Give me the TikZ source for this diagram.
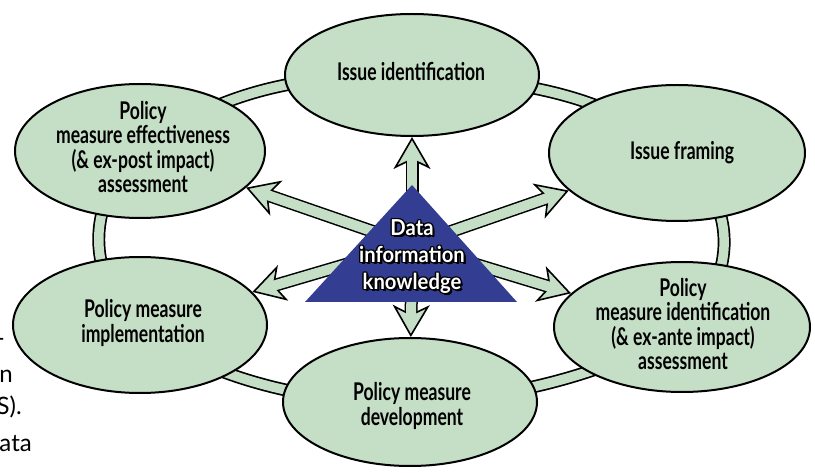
\documentclass[tikz,border=0pt]{standalone}
\usepackage{fontspec}
\usetikzlibrary{shapes.geometric,arrows.meta,backgrounds}
\newfontfamily\condf{Lato}[FakeStretch=0.72]
\newfontfamily\trifont{Lato}[FakeStretch=0.92]
\newfontfamily\fragf{Lato}
\definecolor{ellgreen}{RGB}{197,222,198}
\definecolor{triblue}{RGB}{51,61,145}
\newcommand\shcp[3]{\rlap{\kern#1\raisebox{#2}{\textcolor{black}{#3}}}}
\newcommand\outl[1]{%
  \shcp{1.4pt}{0pt}{#1}\shcp{-1.4pt}{0pt}{#1}\shcp{0pt}{1.4pt}{#1}\shcp{0pt}{-1.4pt}{#1}%
  \shcp{1pt}{1pt}{#1}\shcp{-1pt}{1pt}{#1}\shcp{1pt}{-1pt}{#1}\shcp{-1pt}{-1pt}{#1}%
  \shcp{2.2pt}{-1.8pt}{#1}\shcp{1.8pt}{-2.2pt}{#1}%
  \textcolor{white}{#1}}
\tikzset{
  ell/.style={ellipse, draw=black, line width=2pt, fill=ellgreen, inner sep=0pt},
  lbl/.style={align=center, inner sep=0pt, font=\condf\bfseries\fontsize{24.4}{24.5}\selectfont},
  band/.style={draw=black, line width=1.7pt, double=ellgreen, double distance=9.5pt},
  arrowout/.style={draw=black, line width=13pt,
    -{Stealth[length=32pt, width=37pt, inset=9pt, fill=ellgreen, line width=1.6pt]}},
  arrowin/.style={draw=ellgreen, line width=10pt, shorten >=19pt},
  frag/.style={anchor=base east, inner sep=0pt, font=\fragf\fontsize{24}{28}\selectfont},
}
\begin{document}
\begin{tikzpicture}[x=1pt,y=1pt]
\useasboundingbox (0,0) rectangle (815,-473);
% ellipses
\node[ell, minimum width=254pt, minimum height=122pt] (e1) at (412,-75) {};
\node[ell, minimum width=256pt, minimum height=136pt] (e2) at (677,-153) {};
\node[ell, minimum width=256pt, minimum height=130pt] (e3) at (682,-327) {};
\node[ell, minimum width=254pt, minimum height=128pt] (e4) at (410,-402) {};
\node[ell, minimum width=254pt, minimum height=136pt] (e5) at (140,-325) {};
\node[ell, minimum width=250pt, minimum height=134pt] (e6) at (140,-151) {};
% ring bands
\begin{scope}[on background layer]
\draw[band] (e1.center) .. controls (330,-75) and (230,-80) .. (e6.center);
\draw[band] (e6.center) .. controls (85,-200) and (85,-280) .. (e5.center);
\draw[band] (e5.center) .. controls (190,-370) and (300,-405) .. (e4.center);
\draw[band] (e4.center) .. controls (520,-400) and (630,-365) .. (e3.center);
\draw[band] (e3.center) .. controls (739,-280) and (739,-200) .. (e2.center);
\draw[band] (e2.center) .. controls (610,-95) and (520,-80) .. (e1.center);
\end{scope}
% labels
\node[lbl] (t1) at (411,-72) {Issue identification};
\node[lbl] (t2) at (682,-153) {Issue framing};
\node[lbl] (t3) at (683,-324) {Policy\\measure identification\\(\& ex-ante impact)\\assessment};
\node[lbl] (t4) at (412,-406) {Policy measure\\development};
\node[lbl] (t5) at (143,-323) {Policy measure\\implementation};
\node[lbl] (t6) at (143,-147) {Policy\\measure effectiveness\\(\& ex-post impact)\\assessment};
% hub arrows
\coordinate (hub) at (412,-245);
\foreach \t in {e1,e2,e3,e4,e5,e6}{
  \draw[arrowout] (hub) -- (\t);
  \draw[arrowin] (hub) -- (\t);
}
% triangle
\fill[triblue] (305,-302) -- (412,-185) -- (517,-302) -- cycle;
\node[align=center, inner sep=0pt, font=\trifont\bfseries\fontsize{22}{27}\selectfont] (kt) at (412,-257)
  {\outl{Data}\\\outl{information}\\\outl{knowledge}};
% fragments of cut text at left
\node[frag] (f1) at (5,-347) {-};
\node[frag] (f2) at (13,-383) {n};
\node[frag] (f3) at (22,-415) {S).};
\node[frag] (f4) at (32,-452) {ata};
\end{tikzpicture}
\end{document}
